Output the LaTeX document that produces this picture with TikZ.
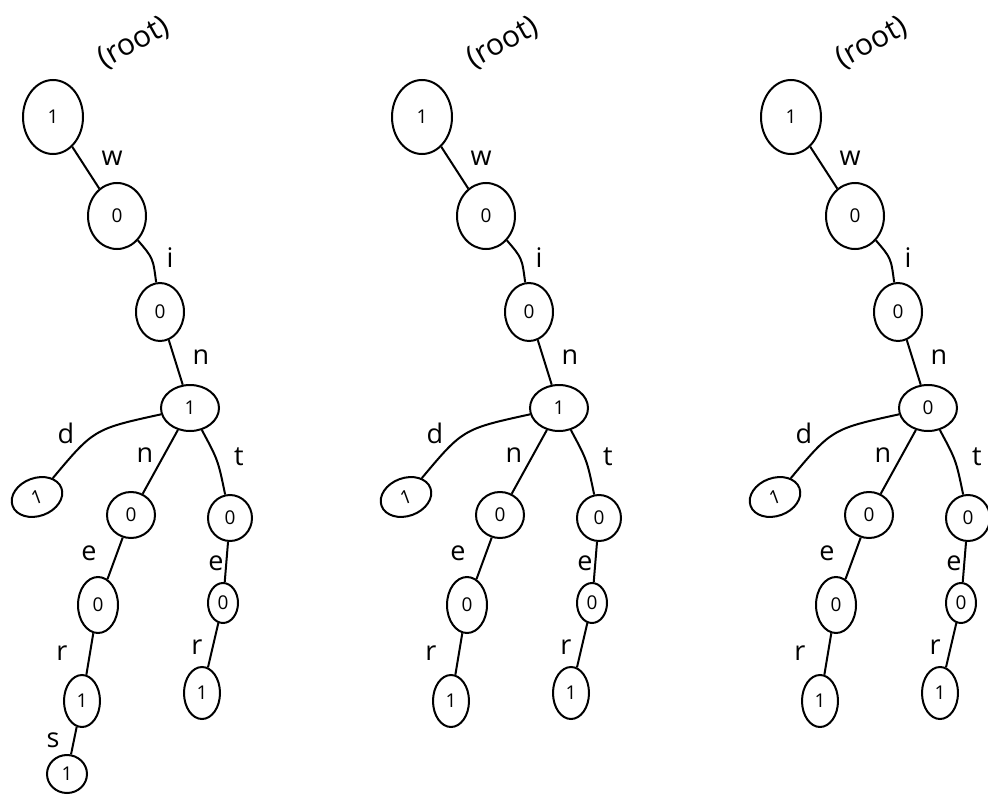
\documentclass[tikz,border=0pt]{standalone}
\usepackage{fontspec}
\setmainfont{Open Sans}
\usetikzlibrary{shapes.geometric}
\tikzset{
  nd/.style 2 args={draw, ellipse, line width=2pt, inner sep=0pt,
    minimum width=#1, minimum height=#2, font=\fontsize{19}{19}\selectfont},
  lbl/.style={inner sep=0pt, font=\fontsize{27}{27}\selectfont},
  conn/.style={line width=2pt},
}
\newcommand\trietree[1]{%
  \node[lbl, rotate=29, font=\fontsize{30}{30}\selectfont] (rootlbl) at (134,43) {(root)};
  \node[nd={60pt}{74pt}] (R) at (53,117) {1};
  \node[nd={58pt}{66pt}] (A) at (117,216) {0};
  \node[nd={48pt}{58pt}] (B) at (160,312) {0};
  \node[nd={58pt}{46pt}] (M) at (190,408) {#1};
  \node[nd={52pt}{38pt}, rotate=20] (D) at (37,497) {1};
  \node[nd={48pt}{46pt}] (N) at (131,515) {0};
  \node[nd={44pt}{46pt}] (T) at (230,518) {0};
  \node[nd={40pt}{56pt}] (NE) at (98,605) {0};
  \node[nd={36pt}{52pt}] (NER) at (82,701) {1};
  \node[nd={30pt}{40pt}] (TE) at (223,603) {0};
  \node[nd={36pt}{52pt}] (TER) at (202,693) {1};
  \draw[conn] (R) -- (A);
  \draw[conn] (A) .. controls (153,258) .. (B);
  \draw[conn] (B) -- (M);
  \draw[conn] (M) .. controls (94,429) .. (D);
  \draw[conn] (M) -- (N);
  \draw[conn] (M) .. controls (218,460) .. (T);
  \draw[conn] (N) -- (NE);
  \draw[conn] (NE) -- (NER);
  \draw[conn] (T) -- (TE);
  \draw[conn] (TE) -- (TER);
  \node[lbl] (lw) at (112,158) {w};
  \node[lbl] (li) at (170,258) {i};
  \node[lbl] (ln) at (201,357) {n};
  \node[lbl] (ld) at (66,433) {d};
  \node[lbl] (ln2) at (145,455) {n};
  \node[lbl] (lt) at (239,457) {t};
  \node[lbl] (le) at (89,553) {e};
  \node[lbl] (le2) at (216,563) {e};
  \node[lbl] (lr) at (62,653) {r};
  \node[lbl] (lr2) at (197,647) {r};
}
\begin{document}
\begin{tikzpicture}[x=1pt, y=-1pt]
  \useasboundingbox (0,0) rectangle (988,800);
  \begin{scope}[name prefix=a-]
    \trietree{1}
    \node[nd={40pt}{38pt}] (NERS) at (67,774) {1};
    \draw[conn] (NER) -- (NERS);
    \node[lbl] (ls) at (53,740) {s};
  \end{scope}
  \begin{scope}[xshift=369pt, name prefix=b-]
    \trietree{1}
  \end{scope}
  \begin{scope}[xshift=738pt, name prefix=c-]
    \trietree{0}
  \end{scope}
\end{tikzpicture}
\end{document}
